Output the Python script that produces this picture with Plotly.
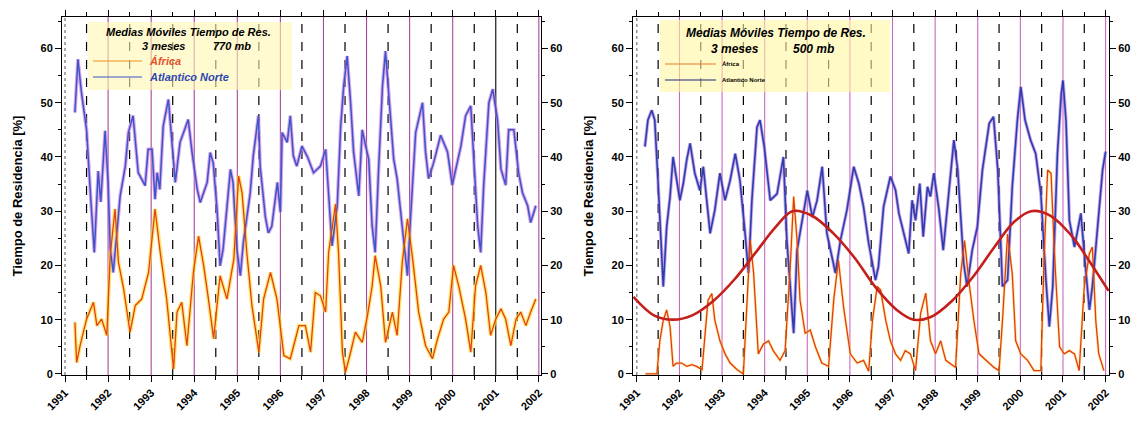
import plotly.graph_objects as go

# ---------------- data: 3-month running means of residence time (%) ----------------
years = list(range(1991, 2003))
year_labels = [str(y) for y in years]
half_years = [y + 0.5 for y in range(1991, 2002)]

# 770 mb panel
n770_t = [1991.23, 1991.3, 1991.38, 1991.5, 1991.6, 1991.68, 1991.77, 1991.83, 1991.93, 1992.0,
          1992.05, 1992.12, 1992.28, 1992.4, 1992.47, 1992.58, 1992.7, 1992.86, 1992.93, 1993.02,
          1993.09, 1993.14, 1993.2, 1993.28, 1993.4, 1993.49, 1993.56, 1993.67, 1993.86, 1993.95,
          1994.07, 1994.14, 1994.3, 1994.37, 1994.44, 1994.53, 1994.6, 1994.67, 1994.84, 1994.9,
          1994.99, 1995.07, 1995.14, 1995.3, 1995.37, 1995.49, 1995.53, 1995.65, 1995.72, 1995.8,
          1995.93, 1996.0, 1996.04, 1996.16, 1996.23, 1996.3, 1996.38, 1996.5, 1996.63, 1996.77,
          1996.93, 1997.05, 1997.12, 1997.2, 1997.32, 1997.4, 1997.47, 1997.55, 1997.63, 1997.7,
          1997.82, 1997.9, 1997.98, 1998.05, 1998.13, 1998.2, 1998.28, 1998.37, 1998.44, 1998.52,
          1998.63, 1998.71, 1998.83, 1998.95, 1999.02, 1999.14, 1999.3, 1999.37, 1999.44, 1999.56,
          1999.72, 1999.88, 1999.99, 2000.07, 2000.19, 2000.3, 2000.42, 2000.49, 2000.58, 2000.65,
          2000.72, 2000.84, 2000.93, 2001.04, 2001.12, 2001.23, 2001.3, 2001.42, 2001.53, 2001.62,
          2001.74, 2001.81, 2001.93]
n770_v = [48.2, 58, 52, 45, 32, 22.4, 37.4, 31.7, 44.8, 35.3,
          23, 18.7, 32.8, 38.3, 44.5, 47.6, 37.1, 34.7, 41.4, 41.4,
          32.2, 37.1, 34, 45.7, 50.6, 41.4, 35.3, 42.7, 46.9, 40.8,
          34, 31.6, 35.3, 40.8, 38.9, 30.3, 19.9, 23, 37.7, 35.3,
          23, 18.1, 24.2, 33.4, 40.2, 47.6, 38.3, 29, 26, 27.2,
          35.3, 29.8, 44.5, 42.7, 47.6, 40.2, 38.3, 42, 40, 37.1,
          38.3, 41.4, 33.4, 23.6, 31, 45.7, 53.1, 58.6, 50, 40.9,
          32.8, 45, 42, 39.6, 27.3, 22.4, 37.8, 53, 59.5, 51.3,
          39.6, 36, 27.3, 18.1, 28.6, 44.5, 50, 40.9, 36, 39,
          44, 40.9, 34.8, 37.8, 42, 47.6, 49.4, 39.6, 27.3, 22.4,
          34.8, 50, 52.5, 46.9, 37.8, 34.8, 45, 45, 37.1, 33.4,
          31, 27.9, 31]

a770_t = [1991.23, 1991.27, 1991.35, 1991.5, 1991.66, 1991.74, 1991.85, 1991.97, 1992.05, 1992.16,
          1992.24, 1992.36, 1992.51, 1992.63, 1992.78, 1992.94, 1993.09, 1993.21, 1993.36, 1993.52,
          1993.6, 1993.71, 1993.83, 1993.98, 1994.1, 1994.22, 1994.33, 1994.45, 1994.6, 1994.76,
          1994.92, 1995.03, 1995.11, 1995.22, 1995.34, 1995.5, 1995.61, 1995.77, 1995.92, 1996.08,
          1996.23, 1996.43, 1996.58, 1996.7, 1996.81, 1996.93, 1997.05, 1997.12, 1997.28, 1997.35,
          1997.44, 1997.51, 1997.63, 1997.74, 1997.9, 1998.02, 1998.13, 1998.2, 1998.33, 1998.44,
          1998.6, 1998.71, 1998.83, 1998.95, 1999.07, 1999.21, 1999.37, 1999.53, 1999.65, 1999.79,
          1999.91, 2000.02, 2000.14, 2000.3, 2000.42, 2000.53, 2000.65, 2000.77, 2000.88, 2001.0,
          2001.12, 2001.23, 2001.35, 2001.47, 2001.58, 2001.7, 2001.81, 2001.93]
a770_v = [9.5, 2.1, 5.2, 10.1, 13.2, 8.9, 10.1, 7.1, 21.8, 30.4,
          20.6, 15.7, 7.7, 12.6, 13.8, 18.7, 30.4, 22.4, 13.8, 0.9,
          11.4, 13.2, 5.2, 18.7, 25.4, 19.9, 13.8, 6.5, 18.1, 13.8,
          21.2, 36.5, 33.4, 22.4, 12.6, 4, 13.8, 18.7, 13.8, 3.4,
          2.8, 8.9, 8.9, 4, 15, 14.4, 11.4, 22.4, 31.3, 22.4,
          4, 0.3, 4, 7.7, 5.8, 10.7, 16.2, 21.8, 16.2, 5.8,
          11.4, 7.1, 20.6, 28.6, 21.2, 11.4, 5.2, 2.8, 6.5, 10.1,
          11.4, 20, 16.2, 10.1, 4, 16.2, 20, 15, 7.1, 10.1,
          12, 10.1, 5.2, 10.1, 11.4, 8.9, 11.4, 13.8]

# 500 mb panel
n500_t = [1991.19, 1991.26, 1991.35, 1991.42, 1991.5, 1991.58, 1991.62, 1991.7, 1991.78, 1991.85,
          1991.93, 1992.01, 1992.09, 1992.17, 1992.25, 1992.36, 1992.48, 1992.56, 1992.64, 1992.72,
          1992.83, 1992.95, 1993.07, 1993.19, 1993.31, 1993.42, 1993.54, 1993.62, 1993.7, 1993.82,
          1993.89, 1993.99, 1994.13, 1994.29, 1994.44, 1994.52, 1994.6, 1994.68, 1994.76, 1994.88,
          1995.0, 1995.12, 1995.23, 1995.35, 1995.46, 1995.66, 1995.78, 1995.93, 1996.09, 1996.21,
          1996.32, 1996.44, 1996.6, 1996.67, 1996.79, 1996.95, 1997.07, 1997.15, 1997.26, 1997.38,
          1997.46, 1997.54, 1997.64, 1997.72, 1997.82, 1997.89, 1997.97, 1998.09, 1998.19, 1998.32,
          1998.44, 1998.53, 1998.6, 1998.67, 1998.75, 1998.87, 1998.99, 1999.11, 1999.27, 1999.37,
          1999.47, 1999.58, 1999.7, 1999.81, 1999.93, 2000.01, 2000.11, 2000.24, 2000.36, 2000.48,
          2000.6, 2000.68, 2000.76, 2000.87, 2000.96, 2001.0, 2001.07, 2001.15, 2001.27, 2001.42,
          2001.5, 2001.62, 2001.69, 2001.81, 2001.93, 2002.0]
n500_v = [41.9, 46.8, 48.6, 46.8, 35.1, 21, 16.1, 27.1, 32.7, 40,
          36.3, 32, 35.1, 39.4, 42.5, 37, 33.8, 38.2, 32, 25.9,
          30.2, 37, 32, 35.7, 40.6, 35.7, 25.9, 18.6, 32, 45.5,
          46.8, 41.9, 32, 33.2, 40, 24.7, 16.1, 7.5, 22.8, 28.3,
          33.8, 28.9, 32, 38.2, 25.9, 18.6, 24.7, 30.2, 38.2, 35.1,
          30.8, 24.1, 17.3, 19.8, 30.8, 36.4, 33.9, 29.6, 25.9, 22.2,
          32, 28.3, 35.1, 25.3, 34.5, 32.7, 37, 30.2, 22.8, 32.7,
          43.1, 37.6, 28.3, 20.4, 16.1, 22.8, 27.1, 37.6, 46.2, 47.4,
          37.6, 16.1, 17.3, 34.5, 46.8, 52.9, 46.8, 43.1, 40.6, 33.3,
          17.3, 8.7, 16.1, 40.6, 51.7, 54.1, 46.8, 28.3, 23.4, 29.6,
          22.2, 11.8, 16.1, 27.1, 37.6, 41.0]

a500_t = [1991.2, 1991.47, 1991.54, 1991.62, 1991.7, 1991.78, 1991.85, 1991.93, 1992.05, 1992.17,
          1992.29, 1992.4, 1992.53, 1992.6, 1992.67, 1992.76, 1992.83, 1992.95, 1993.07, 1993.19,
          1993.35, 1993.5, 1993.58, 1993.66, 1993.74, 1993.85, 1993.97, 1994.09, 1994.2, 1994.36,
          1994.48, 1994.6, 1994.68, 1994.76, 1994.83, 1994.95, 1995.07, 1995.19, 1995.34, 1995.5,
          1995.62, 1995.73, 1995.85, 1996.01, 1996.17, 1996.32, 1996.44, 1996.53, 1996.64, 1996.72,
          1996.84, 1996.95, 1997.07, 1997.19, 1997.3, 1997.42, 1997.54, 1997.66, 1997.78, 1997.89,
          1998.01, 1998.13, 1998.25, 1998.36, 1998.48, 1998.6, 1998.69, 1998.79, 1998.91, 1999.03,
          1999.19, 1999.38, 1999.5, 1999.58, 1999.7, 1999.81, 1999.89, 2000.01, 2000.17, 2000.32,
          2000.48, 2000.56, 2000.64, 2000.72, 2000.8, 2000.92, 2001.03, 2001.15, 2001.27, 2001.38,
          2001.5, 2001.62, 2001.69, 2001.77, 2001.84, 2001.96]
a500_v = [0, 0, 6.1, 9.9, 11.8, 8.7, 1.4, 2, 2, 1.4,
          1.7, 1.4, 0.8, 7.5, 13.6, 14.8, 9.9, 6.1, 3.7, 2,
          0.8, 0, 12.4, 24.7, 18.6, 3.7, 5.5, 6.1, 4.3, 2.5,
          4.3, 19.8, 32.7, 24.7, 13.6, 7.5, 8.1, 5, 2, 1.4,
          13.6, 21, 12.4, 3.7, 2, 2.5, 0.5, 9.9, 16.1, 15.5,
          9.9, 6.1, 3.7, 2.5, 4.3, 3.7, 0.6, 11.2, 14.9, 6.1,
          3.7, 6.1, 2.5, 1.9, 1.2, 18.4, 24.6, 17.2, 9.8, 3.7,
          2.5, 1.2, 0.6, 9.8, 25.8, 18.4, 6.1, 3.7, 2.5, 0.6,
          0.6, 22.2, 37.6, 37, 22.2, 5, 3.7, 4.3, 3.7, 0.6,
          16.1, 22.2, 23.4, 9.8, 3.7, 0.6]

# smooth cycle drawn over the 500 mb panel
cycle_t = [1990.92, 1991.4, 1991.85, 1992.3, 1992.8, 1993.3, 1993.8, 1994.25, 1994.65, 1995.1,
           1995.6, 1996.1, 1996.6, 1997.1, 1997.5, 1997.9, 1998.4, 1998.9, 1999.4, 1999.85,
           2000.25, 2000.7, 2001.2, 2001.6, 2002.07]
cycle_v = [14.2, 10.8, 10.0, 10.8, 13.5, 17.5, 22.5, 27.0, 30.0, 29.2,
           26.0, 21.5, 16.0, 11.8, 10.0, 10.5, 13.5, 18.0, 23.5, 28.0,
           30.0, 29.2, 25.5, 21.0, 15.3]

for a, b in [(n770_t, n770_v), (a770_t, a770_v), (n500_t, n500_v), (a500_t, a500_v), (cycle_t, cycle_v)]:
    assert len(a) == len(b)

# ---------------- figure ----------------
W, H = 1147, 423
BOLD = dict(family="Liberation Sans, Arial, sans-serif", size=11, color="black", weight="bold")
Y_RANGE = [-0.2, 65.8]


def px_x(p):
    return p / W


def px_y(p):
    return 1 - p / H


fig = go.Figure()


def halo(t, v, xa, ya, color, w):
    fig.add_trace(go.Scatter(x=t, y=v, xaxis=xa, yaxis=ya, mode="lines",
                             line=dict(color=color, width=w), hoverinfo="skip", showlegend=False))


def line(t, v, xa, ya, color, w, shape="linear"):
    fig.add_trace(go.Scatter(x=t, y=v, xaxis=xa, yaxis=ya, mode="lines",
                             line=dict(color=color, width=w, shape=shape), showlegend=False))


# soft halos sit on the base axes, the crisp lines on the overlaid (right-labelled) axes
halo(n770_t, n770_v, "x", "y", "rgba(205,120,225,0.65)", 3.6)
halo(a770_t, a770_v, "x", "y", "rgba(255,220,40,0.7)", 3.8)
halo(n500_t, n500_v, "x2", "y2", "rgba(170,110,215,0.6)", 3.4)
halo(a500_t, a500_v, "x2", "y2", "rgba(255,215,60,0.55)", 2.8)

line(n770_t, n770_v, "x", "y3", "#3a56c8", 1.5)
line(a770_t, a770_v, "x", "y3", "#e2401e", 1.3)
line(n500_t, n500_v, "x2", "y4", "#2a3eb0", 1.6)
line(a500_t, a500_v, "x2", "y4", "#e23a1c", 1.3)
line(cycle_t, cycle_v, "x2", "y4", "#c41f1a", 2.6, "spline")

y_dom = [px_y(375), px_y(17)]
left_dom = [px_x(62), px_x(541)]
right_dom = [px_x(633), px_x(1109)]


def xaxis_cfg(dom, rng):
    return dict(domain=dom, range=rng, tickvals=years, ticktext=year_labels, tickangle=-45,
                ticks="outside", ticklen=6, tickcolor="black", showline=True, linecolor="black",
                linewidth=1, mirror="ticks", showgrid=False, zeroline=False, tickfont=BOLD,
                automargin=False,
                minor=dict(dtick=0.5, tick0=1991, ticks="outside", ticklen=4, tickcolor="black"))


def yaxis_cfg(dom, side, overlay=None, anchor=None, title=True):
    cfg = dict(domain=dom, range=Y_RANGE, tickvals=[0, 10, 20, 30, 40, 50, 60], side=side,
               ticks="outside", ticklen=6, tickcolor="black", showline=True, linecolor="black",
               linewidth=1, showgrid=False, zeroline=False, tickfont=BOLD, automargin=False,
               minor=dict(dtick=5, ticks="outside", ticklen=3, tickcolor="black"))
    if overlay:
        cfg["overlaying"] = overlay
    if anchor:
        cfg["anchor"] = anchor
    if title:
        cfg["title"] = dict(text="Tiempo de Residencia [%]", standoff=14,
                            font=dict(family="Liberation Sans, Arial, sans-serif", size=13,
                                      color="black", weight="bold"))
    return cfg


fig.update_layout(
    width=W, height=H, margin=dict(l=0, r=0, t=0, b=0),
    paper_bgcolor="white", plot_bgcolor="white", showlegend=False,
    xaxis=dict(xaxis_cfg(left_dom, [1990.93, 2002.05]), anchor="y"),
    xaxis2=dict(xaxis_cfg(right_dom, [1990.91, 2002.08]), anchor="y2"),
    yaxis=yaxis_cfg(y_dom, "left", anchor="x"),
    yaxis2=yaxis_cfg(y_dom, "left", anchor="x2"),
    yaxis3=yaxis_cfg(y_dom, "right", overlay="y", anchor="x", title=False),
    yaxis4=yaxis_cfg(y_dom, "right", overlay="y2", anchor="x2", title=False),
)

# season markers: solid at year starts, dashed at mid-year
shapes = []
for xr, purple in [("x", "#a8489a"), ("x2", "#c86ac0")]:
    yref = "y domain" if xr == "x" else "y2 domain"
    # faint dotted marker at the series start
    shapes.append(dict(type="line", xref=xr, yref=yref, x0=1991, x1=1991, y0=0, y1=1,
                       line=dict(color="#555555", width=1, dash="dot"), layer="below"))
    for y in years[1:]:
        col = "black" if (xr == "x" and y == 2001) else purple
        shapes.append(dict(type="line", xref=xr, yref=yref,
                           x0=y, x1=y, y0=0, y1=1, line=dict(color=col, width=1.1), layer="below"))
    for h in half_years:
        shapes.append(dict(type="line", xref=xr, yref=yref,
                           x0=h, x1=h, y0=0, y1=1, line=dict(color="black", width=1.2, dash="dash"),
                           layer="below"))

# key boxes
shapes.append(dict(type="rect", xref="paper", yref="paper", x0=px_x(88), x1=px_x(292),
                   y0=px_y(90), y1=px_y(22), fillcolor="rgba(255,246,175,0.6)", line=dict(width=0),
                   layer="below"))
shapes.append(dict(type="rect", xref="paper", yref="paper", x0=px_x(660), x1=px_x(890),
                   y0=px_y(92), y1=px_y(20), fillcolor="rgba(255,246,160,0.6)", line=dict(width=0),
                   layer="below"))
# key line samples
for x0, x1, yy, col in [(93, 142, 61, "#f0901e"), (93, 142, 77, "#3a56c8"),
                        (665, 716, 64, "#ee7a2a"), (665, 716, 80, "#1c2a80")]:
    shapes.append(dict(type="line", xref="paper", yref="paper", x0=px_x(x0), x1=px_x(x1),
                       y0=px_y(yy), y1=px_y(yy), line=dict(color=col, width=1.2)))
fig.update_layout(shapes=shapes)

ann = []


def txt(x, y, s, size, color="black", xanchor="center"):
    ann.append(dict(xref="paper", yref="paper", x=px_x(x), y=px_y(y), text=s, showarrow=False,
                    xanchor=xanchor, yanchor="middle",
                    font=dict(family="Liberation Sans, Arial, sans-serif", size=size, color=color)))


txt(188, 32, "<b><i>Medias Móviles Tiempo de Res.</i></b>", 11)
txt(163, 46, "<b><i>3 meses</i></b>", 11)
txt(232, 46, "<b><i>770 mb</i></b>", 11)
txt(147, 61, "<b><i>África</i></b>", 11, "#e8502a", "left")
txt(147, 77, "<b><i>Atlantico Norte</i></b>", 11, "#3048b0", "left")

txt(776, 33, "<b><i>Medias Móviles Tiempo de Res.</i></b>", 12)
txt(735, 49, "<b><i>3 meses</i></b>", 12)
txt(813, 49, "<b><i>500 mb</i></b>", 12)
txt(720, 64, "<b>África</b>", 6, "black", "left")
txt(720, 80, "<b>Atlantico Norte</b>", 6, "black", "left")
fig.update_layout(annotations=ann)

fig.write_html("out.html")
